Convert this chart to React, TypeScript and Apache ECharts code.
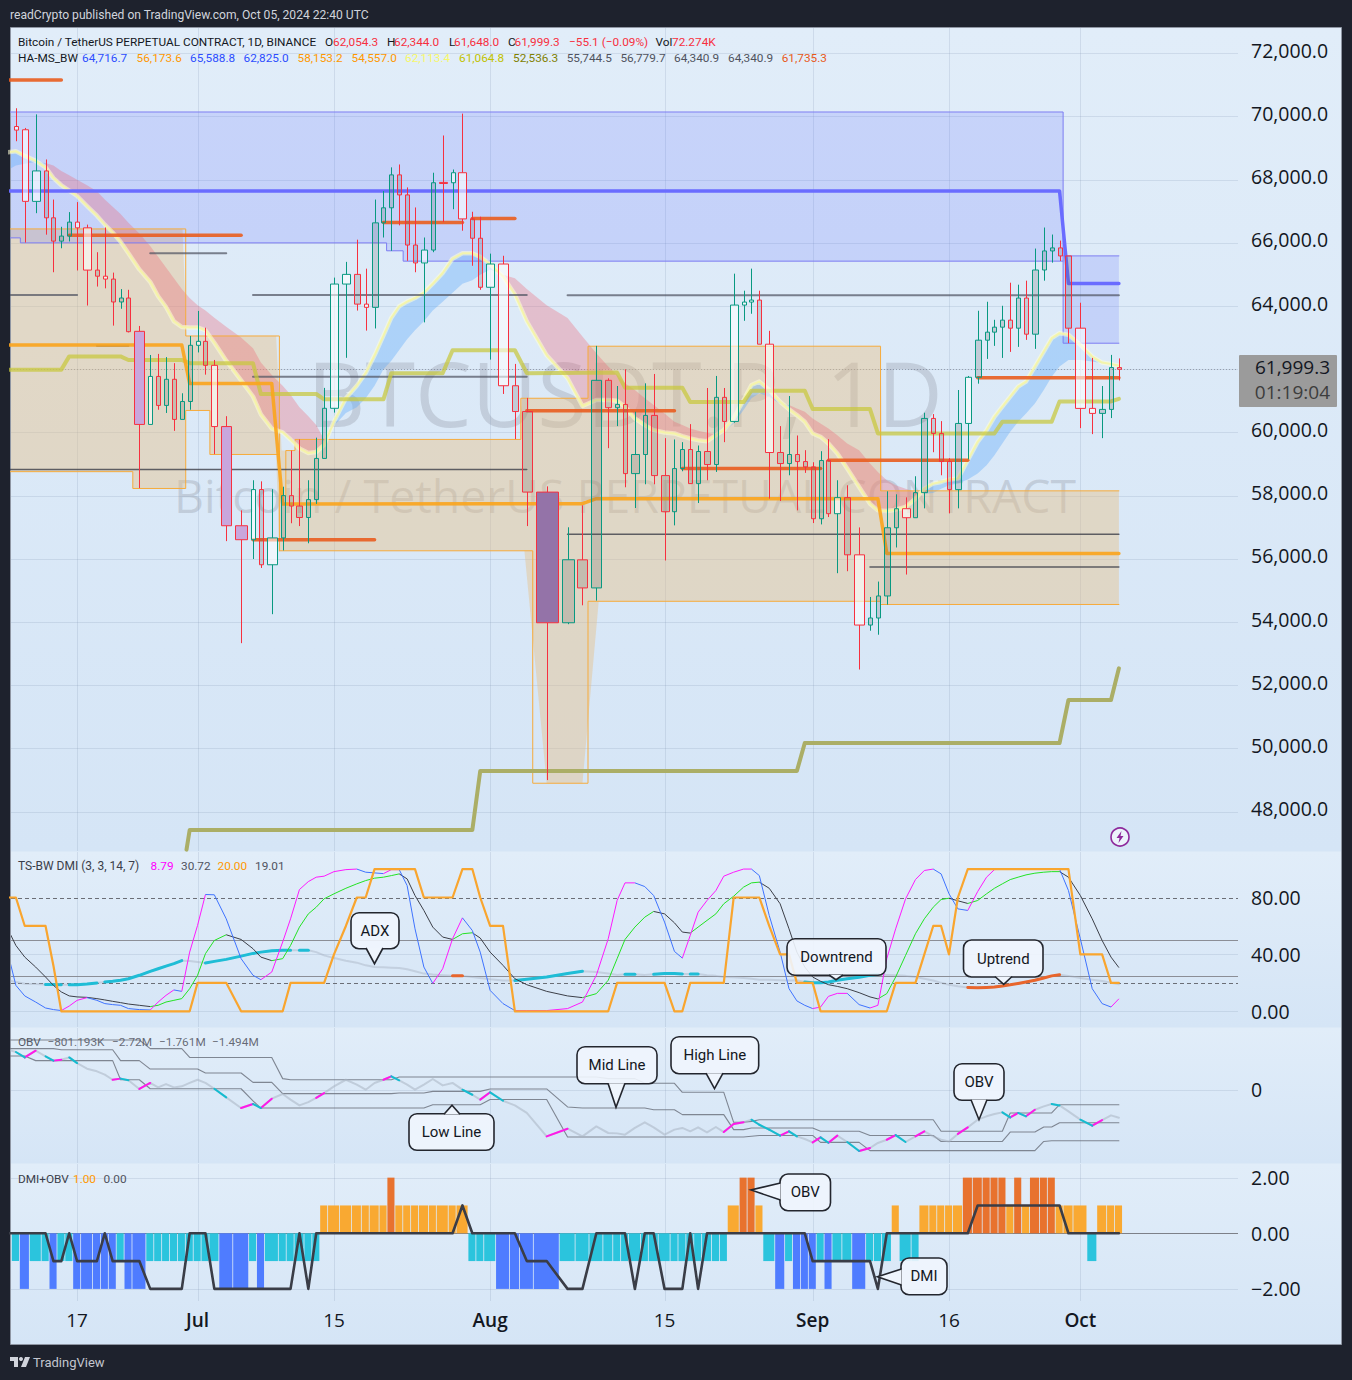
import React, { useEffect, useRef } from "react";
import * as echarts from "echarts";

// ---------- candle data (Jun 9 – Oct 5, 2024, one row per day) ----------
const opens = [69353,69682,69580,67314,68277,66793,66056,66215,66657,66476,
65139,64946,64855,64130,64255,63201,60255,61774,60856,61683,
60414,60981,62759,62884,62125,60187,57049,56607,58193,55814,
56664,58001,57672,57310,57876,59179,60765,64697,65003,64062,
63960,66634,67110,68152,67518,65932,65365,65773,67914,67903,
68220,66759,66147,64595,65331,61479,60663,58114,53979,55970,
55081,61651,60784,60889,58699,59303,60540,58636,57493,58858,
59461,58382,59398,58985,61112,60350,64032,64127,64190,62794,
59366,59017,59303,59080,58911,57271,59112,57430,57938,56128,
53906,54129,54827,56985,57588,57303,58096,60445,59969,59080,
58191,60286,61746,62921,63175,63333,63555,63301,64254,63111,
65142,65745,65841,65587,63301,60762,60604,60730,62054.3];
const highs = [69920,70260,69637,70067,68640,67371,66510,66974,67291,66578,
65705,66487,65059,64538,64515,63371,62453,62487,62385,62193,
61241,63054,63847,63315,62295,60516,57536,58488,58454,58205,
58284,59428,59780,58488,59836,61411,64901,65399,66102,65184,
67371,67643,68390,68481,67756,67121,66170,68220,69399,68322,
70090,66985,66827,65660,65592,62170,61094,58295,57000,57694,
62741,61715,61471,62000,60657,61556,61852,59821,59779,59694,
60265,59588,61408,61789,61408,65026,64487,65185,64487,63217,
60202,61154,59905,59440,59059,59408,59789,58488,58329,56996,
54795,55282,58139,58043,57948,58615,60625,60582,60360,59186,
61344,61788,63852,64137,63566,64010,64740,64677,64804,65820,
66486,66264,66073,65587,64106,62360,61471,62455,62344];
const lows = [69183,69217,66011,66940,66260,65071,65830,66045,65127,64017,
64618,64561,63382,63915,63167,58239,60255,60720,60618,60051,
60414,60720,62533,61830,59315,56562,53333,55995,55712,54250,
56267,57128,57038,56494,57740,59179,60629,62363,63858,63224,
63292,66170,65750,66555,65433,65071,63484,65705,66657,67065,
66385,65275,64515,62306,61219,59791,57038,49000,53934,54531,
54679,59504,60202,58266,57610,58361,58361,55949,57060,58773,
58382,57768,58488,58752,59694,60308,63534,63757,62794,57906,
57832,58646,57536,58721,57134,57091,57324,55547,55610,52499,
53727,53600,54552,56361,55504,57303,57599,59376,58646,57440,
57599,59154,61545,62328,62741,62360,62550,62709,62931,62646,
64804,65375,65428,62825,60138,59948,59821,60456,61648];
const closes = [69682,69569,67314,68277,66793,66056,66215,66657,66476,65139,
64946,64855,64130,64255,63190,60255,61774,60856,61683,60414,
60981,62759,62884,62125,60187,57049,56607,58193,55814,56664,
58001,57672,57310,57876,59179,60765,64697,65003,64062,63960,
66634,67110,68152,67518,65932,65365,65773,67903,67880,68220,
66759,66147,64595,65331,61479,60663,58114,53979,55973,55081,
61651,60784,60889,58699,59303,60540,58636,57493,58858,59461,
58382,59398,58985,61112,60350,64032,64127,64190,62794,59366,
59017,59303,59080,58911,57271,59112,57430,57938,56129,53906,
54129,54827,56985,57588,57303,58096,60445,59969,59080,58191,
60286,61746,62921,63175,63333,63555,63301,64254,63111,65142,
65745,65841,65587,63301,60762,60604,60730,62054,61999.3];
// volume in thousands; the chart is a volume-candle chart, so width follows volume
const volumes = [72,72,108,144,72,72,72,72,72,144,
72,72,72,72,72,180,72,72,72,72,
72,72,72,72,108,180,216,72,72,180,
72,72,108,72,72,72,144,144,108,72,
108,72,72,72,72,72,108,72,144,72,
144,72,72,144,180,108,180,396,216,180,
180,108,72,72,144,72,108,144,72,72,
72,72,108,72,72,144,72,72,72,144,
108,72,72,72,72,72,72,108,108,180,
72,72,108,72,144,72,108,72,72,72,
108,108,108,72,72,72,72,72,72,108,
72,72,72,108,180,108,108,72,72.274];
const lightBodies = [1,2,3,8,9,11,16,22,24,27,29,36,37,39,46,49,50,53,54,75,76,77,79,87,89,94,101,114,115];
const purpleBodies = [15,25,26];
const deepBodies = [57];

// ---------- overlay data: [candle index, price] ----------
const ribbonFast = [68866,68900,68753,68594,68390,68050,67824,67654,67484,67167,
66861,66578,66328,66034,65671,65161,64765,64311,63971,63518,
63337,63326,63326,63235,62839,62272,61649,61139,60573,60119,
60006,59779,59496,59349,59383,59610,60346,61082,61479,61876,
62442,63065,63632,63994,64141,64255,64425,64708,65048,65501,
65671,65671,65558,65331,64935,64368,63518,62442,61715,60837,
61027,61027,61006,60815,60445,60234,60075,60001,59969,59884,
59810,59757,59726,59916,60075,60445,61027,61503,61609,61344,
60974,60731,60551,60339,59969,59863,59652,59334,58858,58276,
57747,57535,57514,57557,57641,57906,58223,58382,58435,58509,
58541,59122,59704,60075,60498,60815,61133,61450,61609,62085,
62561,62984,63143,63090,62772,62402,62212,62169,62113.4];
const ribbonSlow = [68311,68447,68504,68560,68526,68447,68277,68141,67994,67824,
67631,67371,67144,66917,66634,66294,65898,65558,65218,64878,
64538,64255,64028,63858,63632,63348,63008,62669,62216,61819,
61479,61196,60799,60516,60233,59779,60210,60620,60799,61082,
61479,62001,62272,62612,62952,63235,63518,63858,64141,64425,
64708,64821,64991,65161,64991,64878,64538,64028,63619,63037,
62508,62085,61820,61556,61344,61080,60868,60604,60339,60234,
60127,60054,59990,59948,60022,60286,60710,61080,61239,61133,
60900,60868,60762,60657,60445,60286,60127,59916,59650,59440,
59017,58752,58488,58329,58223,58117,58064,58086,58223,58329,
58382,58509,58699,58964,59281,59651,60022,60339,60604,60921,
61344,61767,62085,62296,62296,62243,62191,62169,62138];

const blueUpperA = [[0,70142],[112.4,70142]];
const blueLowerA = [[0,66158],[1.5,66158],[1.5,66000],[41.4,66000],[41.4,65750],[43.5,65750],[43.5,65422],[112.4,65422]];
const blueUpperB = [[112.4,65588.8],[118,65588.8]];
const blueLowerB = [[112.4,62825],[118,62825]];
const blueMid = [[0,67642],[112,67642],[113,64716.7],[118,64716.7]];

const tanFillUpper = [[0,66442],[20.1,66442],[20.6,63054],[29.4,63054],[29.9,59428],[31.5,59428],[31.5,59780],[55.5,59780],[55.5,61083],[59.4,61083],[59.4,62730],[91.3,62730],[91.5,58153.2],[118,58153.2]];
const tanFillLower = [[0,58760],[14.4,58760],[14.4,58228],[20.5,58228],[20.5,60697],[23.5,60697],[23.5,59304],[29.4,59304],[29.7,56256],[55.8,56256],[57,48900],[59,48900],[60.2,54658],[91.3,54658],[91.5,54557],[118,54557]];
const tanEdges = [
  [[0,66442],[20.5,66442],[20.5,63054],[29.7,63054],[29.7,56256]],
  [[30.4,58000],[30.4,59428],[31.5,59428],[31.5,59780],[55.5,59780],[55.5,61083],[59.4,61083],[59.4,62730],[91.3,62730],[91.3,58153.2],[118,58153.2]],
  [[0,58760],[14.4,58760],[14.4,58228],[20.5,58228],[20.5,60697],[23.5,60697],[23.5,59304],[29.7,59304]],
  [[29.7,56256],[56.3,56256],[56.3,48900],[59.4,48900],[59.4,54658],[91.3,54658],[91.3,54557],[118,54557]],
];
const orangeMid = [[0,62770],[20,62770],[21,61547],[29,61547],[30,57735],[59,57747],[60,57906],[91,57906],[92,56173.6],[118,56173.6]];
const oliveLine = [[0,61989],[6,61989],[7,62408],[13,62408],[14,62295],[20,62295],[21,62193],[27,62193],[28,61218],[34,61218],[35,61049],[41,61049],[42,61876],[48,61876],[49,62601],[55,62601],[56,61876],[62,61895],[63,61418],[69,61418],[70,60964],[76,60964],[77,61323],[83,61323],[84,60741],[90,60741],[91,59969],[104,59969],[105,60339],[111,60339],[112,60984],[117,60984],[118,61064.8]];
const darkOliveLine = [[20.6,46800],[21,47421],[51,47421],[52,49288],[82,49288],[83,50174],[112,50174],[113,51535],[117,51535],[118,52536.3]];
const grayLevels = [
  [[0,64350],[8,64350]],[[27,64350],[56,64350]],[[58,64340.9],[118,64340.9]],
  [[16,65671],[25,65671]],[[10,62748],[14,62748]],[[27,61762],[56,61762]],
  [[0,58828],[56,58828]],[[58,56779.7],[118,56779.7]],[[90,55744.5],[118,55744.5]],
];
const redLevels = [
  [[0,71155],[6,71155]],[[7,66238],[26,66238]],[[27,56607],[40,56607]],[[41,66646],[50,66646]],
  [[51,66770],[55,66770]],[[56,60690],[68,60690]],[[69,58858],[85,58858]],[[86,59123],[101,59123]],[[102,61735.3],[118,61735.3]],
];
const priceTicks = [48000,50000,52000,54000,56000,58000,60000,62000,64000,66000,68000,70000,72000];
const priceTickLabels = [48000,50000,52000,54000,56000,58000,60000,64000,66000,68000,70000,72000];

// ---------- DMI pane ----------
const dmiFast = [40.5,18.2,10.8,6.5,2.3,1.2,.5,3.7,7.7,9.6,
7.7,5.4,4.7,4.2,1.9,1.2,.9,6.5,11.2,15,
14,41.6,60.4,82.1,81.9,65,37,25.3,22.2,27.6,
48.7,65,85.6,91.2,94.3,95,98.2,99.6,100,97.8,
97.3,96.8,99.6,99.6,88.4,58,31.1,19.6,29.9,51,
65.7,56.8,41.6,14.7,5.4,.5,.5,.5,1.9,6.5,
25.3,51,77.9,90.3,90.3,87.7,81.4,62.7,42.1,37.4,
53.3,69.7,77.9,84.9,95,97.8,100,100,95.4,67.4,
41.6,15.9,7.3,4.2,1.9,3,10.5,12.6,12.6,4.7,
2.3,4.2,37,58,79,92.6,99,100,96.6,82.6,
72,70.9,84.2,94.3,99.6,100,100,100,100,100,
100,100,100,84.9,51,15.9,5.4,3,8.79];
const dmiSlow = [57.5,46.3,38.1,31.1,24.1,18.2,13.6,10.8,10.1,9.8,
8.9,8,7,6.1,5.1,4.2,3.3,4.2,6.5,7.7,
8.9,15.9,25.3,40.5,49.8,53.8,50.5,44,38.1,35.6,
37,46.3,59.2,68.5,73.2,79.1,82.6,86.5,89.6,91.9,
93.6,94.3,95.4,96.6,93.1,81.4,70.9,59.2,52.2,50.5,
54.5,55.2,51.5,41.6,32.3,22.9,18.7,14,10.8,9.6,
12.4,21.8,37,50.5,59.2,66.2,70.2,68.5,62.2,55.7,
55,59.2,63.9,68.5,75.6,80.9,87.3,90.3,90.8,86.5,
75.6,58,41.6,31.1,24.1,21.1,18.7,17.5,15.9,13.1,
10.1,8.7,12.4,24.1,39.3,54.5,65,73.2,78.6,79.5,
77.7,75.8,77.9,82.6,86.5,89.6,92.6,94.3,95.9,97.1,
97.8,98.2,98.2,94.3,81.4,65,49.8,38.1,30.72];
const dmiSignal = [80,80,60,60,60,32,0,0,0,0,
0,0,0,0,0,0,0,0,0,0,
0,0,20,20,20,20,0,0,0,0,
0,20,20,20,20,20,40,60,80,80,
100,100,100,100,100,100,80,80,80,80,
100,100,80,60,60,0,0,0,0,0,
0,0,20,20,20,20,20,20,0,0,
20,20,20,20,20,80,80,80,80,60,
40,40,20,20,20,0,0,0,0,0,
0,0,0,20,20,20,40,60,60,40,
80,100,100,100,100,100,100,100,100,100,
100,100,100,100,40,40,40,20,20];
const adx = [21.8,20.6,19.4,19.2,18.9,18.8,18.7,18.7,18.7,19.2,
19.9,20.6,21.1,21.8,22.9,25.3,28.1,29.9,31.8,33.5,
35.6,35.4,34.6,33.9,35.1,36.5,38.8,40.7,41.6,42.6,
42.9,42.9,42.9,42.9,41.6,39.3,37.4,35.6,34.2,32.3,
31.1,30.9,30.6,30.4,29.5,28.1,26.5,25.8,25.3,24.9,
24.9,24.1,23.4,22.5,21.6,21.6,22.5,24.1,26.5,28.1,
27.6,26.5,25.6,26,26,25.6,26,26.5,26.5,26.2,
26.2,26.2,25.3,24.9,24.1,23.9,23.4,22.9,22.2,22.2,
21.8,21.6,21.8,20.6,20.1,20.1,20.6,21.8,22.9,23.9,
25.3,25.8,25.6,25.3,24.9,24.1,22.9,21.6,20,18.7,
17.6,16.7,16.5,16.7,17,17.8,18.6,19.6,20.6,21.8,
23.4,24.9,25.7,24.9,23.4,22.2,21.3,20.1,19.01];
const adxCyanRanges = [[4,6],[7,10],[11,20],[23,31],[32,33],[55,59],[63,64],[66,69],[70,71],[83,91]];
const adxOrangeRanges = [[49,50],[101,112]];

// ---------- OBV pane (millions) ----------
const obv = [2.13,2.01,1.72,2.08,1.78,1.55,1.6,1.72,1.42,1.12,
.98,.8,.53,.59,.5,.04,.36,.12,.3,.12,
.18,.36,.53,.36,.05,-.41,-.98,-.76,-.98,-.48,
-.23,-.53,-.84,-.66,-.44,-.18,.18,.53,.27,0,
.36,.53,.71,.5,.27,0,.27,.57,.23,.36,
0,-.27,-.53,-.14,-.59,-.84,-1.24,-2.49,-2.08,-2.49,
-1.96,-2.31,-2.33,-2.4,-2.04,-1.74,-2.01,-2.4,-2.13,-2.04,
-2.22,-2.01,-2.28,-1.99,-2.26,-1.83,-1.74,-1.6,-1.87,-2.13,
-2.45,-2.22,-2.49,-2.63,-2.81,-2.54,-2.83,-2.45,-2.79,-3.27,
-3.11,-2.84,-2.67,-2.42,-2.79,-2.49,-2.22,-2.49,-2.67,-2.76,
-2.36,-2.01,-1.6,-1.42,-1.3,-1.21,-1.48,-1.24,-1.42,-1.07,
-.89,-.76,-.84,-1.16,-1.6,-1.92,-1.62,-1.37,-1.494];
const obvHigh = [[0,2.65],[15,2.65],[16,2.19],[20,2.19],[21,1.72],[29,1.72],[30,.59],[31,.53],[42,.53],[43,.68],[60,.68],[61,.59],[64,.59],[65,.34],[68,.34],[69,-.14],[74,-.14],[75,-1.74],[76,-1.74],[77,-1.69],[78,-1.6],[97,-1.6],[98,-2.22],[105,-2.22],[106,-1.24],[111,-1.24],[112,-.801],[118,-.801]];
const obvMid = [[0,2.19],[5,2.19],[6,2.13],[12,2.13],[13,1.55],[15,1.55],[16,1.1],[22,1.1],[23,.89],[26,.89],[27,.39],[29,.39],[30,-.21],[42,-.21],[43,-.18],[46,-.18],[47,-.09],[52,-.09],[53,.04],[57,.04],[58,-.92],[59,-.98],[65,-.98],[66,-1.07],[68,-1.07],[69,-1.33],[74,-1.33],[75,-2.13],[76,-2.13],[77,-2.04],[84,-2.04],[85,-2.22],[89,-2.22],[90,-2.44],[97,-2.44],[98,-2.76],[105,-2.76],[106,-2.26],[109,-2.26],[110,-1.99],[111,-1.99],[112,-1.761],[118,-1.761]];
const obvLow = [[0,1.8],[2,1.8],[3,1.55],[12,1.55],[13,.53],[15,.53],[16,.05],[26,.05],[27,-.6],[28,-.98],[46,-.98],[47,-.8],[52,-.8],[53,-.52],[57,-.52],[58,-2.52],[76,-2.52],[77,-2.48],[78,-2.44],[84,-2.44],[85,-2.81],[89,-2.81],[90,-3.25],[109,-3.25],[110,-2.76],[111,-2.72],[118,-2.72]];
const obvUpStarts = [2,5,12,15,26,28,34,41,52,57,74,75,80,84,86,89,92,95,100,106,108,115];
const obvDownStarts = [1,4,7,13,24,27,42,50,53,77,78,79,81,85,88,93,105,107,111,114];

// ---------- DMI+OBV pane ----------
const comboBars = [-1,-1,-2,-1,-1,-2,-1,-1,-2,-2,
-2,-2,-2,-1,-2,-2,-1,-1,-1,-1,
-1,-1,-1,-1,-1,-2,-2,-1,-2,-1,
-1,-1,-1,-1,-1,1,1,1,1,1,
1,1,2,1,1,1,1,1,1,1,
1,-1,-1,-1,-2,-2,-2,-2,-1,-1,
-1,-1,-1,-1,-1,-1,-1,-1,-1,-1,
-1,-1,-1,-1,-1,1,2,2,1,-1,
-2,-1,-2,-2,-2,-1,-2,-1,-1,-2,
-1,-1,-1,1,-1,-1,1,1,1,1,
1,2,2,2,2,2,1,2,1,2,
2,2,1,1,1,-1,1,1,1];
const comboLine = [0,0,0,0,0,-1,-1,0,-1,-1,
-1,0,-1,-1,-1,-1,-2,-2,-2,-2,
-2,0,0,0,-2,-2,-2,-2,-2,-2,
-2,-2,0,-2,0,0,0,0,0,0,
0,0,0,0,0,0,0,0,0,0,
1,0,0,0,0,0,-1,-1,-2,-2,
0,0,0,0,-2,0,0,-2,-2,-2,
0,-2,0,0,0,0,0,0,0,0,
0,0,0,0,-1,-1,-1,-1,-1,-1,
-1,-2,0,0,0,0,0,0,0,0,
0,0,1,1,1,1,1,1,1,1,
1,1,1,0,0,0,0,0,0];
const timeTickIdx = [8,22,36,53,67,84,99,114];
const timeTickLabels = ["17","Jul","15","Aug","15","Sep","16","Oct"];

// ---------- scale set-up ----------
const PX = 18; // volume units per pixel
const GAP = 70; // spacing between candles, in the same units
const pos: number[] = [];
{
  let run = 0;
  volumes.forEach((v, i) => {
    if (i === 0) run = v / 2;
    else run += (volumes[i - 1] + v) / 2 + GAP;
    pos.push(run);
  });
}
const xMin = 90;
const xMax = xMin + 1227 * PX;
const xAt = (i: number) => {
  const a = Math.floor(i);
  const b = Math.min(a + 1, pos.length - 1);
  return pos[a] + (pos[b] - pos[a]) * (i - a);
};
const pts = (list: number[][]) => list.map(([i, v]) => [xAt(i), v]);
const series1 = (vals: number[]) => vals.map((v, i) => [pos[i], v]);
const FONT = "Open Sans";
const UI = "Roboto";
const INK = "#131722";
const RED = "#f7303f";
const GREEN = "#089981";
const GRID = "rgba(125,145,175,0.2)";

function line(g: number, data: any[], color: string, width: number, z = 4, extra: any = {}) {
  return { type: "line", xAxisIndex: g, yAxisIndex: g, data, symbol: "none", silent: true, z,
    lineStyle: { color, width, cap: "round", join: "round", ...extra }, animation: false };
}
function polygonBand(g: number, upper: number[][], lower: number[][], fill: string, z = 2) {
  const poly = [...pts(upper), ...pts(lower).reverse()];
  return { type: "custom", xAxisIndex: g, yAxisIndex: g, silent: true, z, clip: true, data: [poly[0]], encode: { x: 0, y: 1 },
    renderItem: (_: any, api: any) => ({ type: "polygon", shape: { points: poly.map((p) => api.coord(p)) }, style: { fill } }) };
}
function hRules(g: number, values: number[], stroke: string, lineDash?: number[], width = 1) {
  return { type: "custom", xAxisIndex: g, yAxisIndex: g, silent: true, z: 1, clip: true, data: values.map((v) => [xMin, v]), encode: { x: 0, y: 1 },
    renderItem: (_: any, api: any) => {
      const a = api.coord([xMin, api.value(1)]);
      const b = api.coord([xMax, api.value(1)]);
      const y = Math.round(a[1]) + 0.5;
      return { type: "line", shape: { x1: a[0], y1: y, x2: b[0], y2: y }, style: { stroke, lineWidth: width, lineDash } };
    } };
}
function vRules(g: number, yLo: number, yHi: number) {
  return { type: "custom", xAxisIndex: g, yAxisIndex: g, silent: true, z: 1, clip: true, data: timeTickIdx.map((i) => [pos[i], yLo]), encode: { x: 0, y: 1 },
    renderItem: (_: any, api: any) => {
      const a = api.coord([api.value(0), yLo]);
      const b = api.coord([api.value(0), yHi]);
      const x = Math.round(a[0]) + 0.5;
      return { type: "line", shape: { x1: x, y1: a[1], x2: x, y2: b[1] }, style: { stroke: GRID, lineWidth: 1 } };
    } };
}
function dirLine(g: number, vals: number[], up: string, down: string, width = 1) {
  const rows = vals.slice(0, -1).map((v, i) => [pos[i], v, pos[i + 1], vals[i + 1]]);
  return { type: "custom", xAxisIndex: g, yAxisIndex: g, silent: true, z: 5, clip: true, data: rows, encode: { x: 0, y: 1 },
    renderItem: (_: any, api: any) => {
      const v0 = api.value(1), v1 = api.value(3);
      const a = api.coord([api.value(0), v0]);
      const b = api.coord([api.value(2), v1]);
      return { type: "line", shape: { x1: a[0], y1: a[1], x2: b[0], y2: b[1] }, style: { stroke: v1 >= v0 ? up : down, lineWidth: width } };
    } };
}
const ribbonSeries = {
  type: "custom", xAxisIndex: 0, yAxisIndex: 0, silent: true, z: 3, clip: true, data: [[pos[10], ribbonFast[10]]], encode: { x: 0, y: 1 },
  renderItem: (_: any, api: any) => {
    const children: any[] = [];
    let start = 0;
    const isRed = (i: number) => ribbonSlow[i] > ribbonFast[i];
    for (let i = 1; i <= ribbonFast.length; i++) {
      if (i === ribbonFast.length || isRed(i) !== isRed(start)) {
        const end = Math.min(i, ribbonFast.length - 1);
        const p: number[][] = [];
        for (let k = start; k <= end; k++) p.push(api.coord([pos[k], ribbonFast[k]]));
        for (let k = end; k >= start; k--) p.push(api.coord([pos[k], ribbonSlow[k]]));
        children.push({ type: "polygon", shape: { points: p }, style: { fill: isRed(start) ? "rgba(240,95,110,0.31)" : "rgba(95,170,250,0.38)" } });
        start = i;
      }
    }
    return { type: "group", children };
  },
};
const candleSeries = {
  type: "custom", xAxisIndex: 0, yAxisIndex: 0, silent: true, z: 8, clip: true,
  data: pos.map((p, i) => [p, opens[i], closes[i], lows[i], highs[i], volumes[i], i]),
  encode: { x: 0, y: [1, 2, 3, 4] },
  renderItem: (_: any, api: any) => {
    const x = api.value(0), o = api.value(1), c = api.value(2), l = api.value(3), h = api.value(4), i = api.value(6);
    const cx = Math.round(api.coord([x, o])[0]) + 0.5;
    const w = api.size([api.value(5), 0])[0];
    const top = api.coord([x, Math.max(o, c)])[1];
    const bot = api.coord([x, Math.min(o, c)])[1];
    const hi = api.coord([x, h])[1];
    const lo = api.coord([x, l])[1];
    const stroke = c >= o ? GREEN : RED;
    let fill = "rgba(85,85,85,0.2)";
    if (lightBodies.includes(i)) fill = "rgba(255,255,255,0.58)";
    if (purpleBodies.includes(i)) fill = "#c9a6dc";
    if (deepBodies.includes(i)) fill = "#9473a8";
    return { type: "group", children: [
      { type: "line", shape: { x1: cx, y1: hi, x2: cx, y2: top }, style: { stroke, lineWidth: 1 } },
      { type: "line", shape: { x1: cx, y1: bot, x2: cx, y2: lo }, style: { stroke, lineWidth: 1 } },
      { type: "rect", shape: { x: cx - w / 2, y: top, width: w, height: Math.max(bot - top, 1) }, style: { fill, stroke, lineWidth: 1 } },
    ] };
  },
};
const comboBarSeries = {
  type: "custom", xAxisIndex: 3, yAxisIndex: 3, silent: true, z: 3, clip: true,
  data: pos.map((p, i) => [p, comboBars[i], volumes[i]]), encode: { x: 0, y: 1 },
  renderItem: (_: any, api: any) => {
    const x = api.value(0), v = api.value(1);
    const slot = api.size([api.value(2) + GAP, 0])[0];
    const a = api.coord([x, 0]);
    const b = api.coord([x, v]);
    const color = v === 1 ? "#f9a932" : v === 2 ? "#e8722e" : v === -1 ? "#2bc4dd" : "#4f7cff";
    return { type: "rect", shape: { x: a[0] - slot / 2, y: Math.min(a[1], b[1]), width: slot - 0.8, height: Math.abs(b[1] - a[1]) }, style: { fill: color } };
  },
};

function t(x: number, y: number, text: string, fill: string, size = 12, extra: any = {}) {
  return { type: "text", x, y, z: 60, silent: true, style: { text, fill, font: `${extra.weight || 400} ${size}px ${extra.family || UI}`, textAlign: extra.align || "left", textVerticalAlign: "middle", opacity: extra.opacity ?? 1 } };
}
const CALLOUT_FILL = "rgba(239,245,253,0.9)";
const CALLOUT_STROKE = "#23262e";
function callout(box: number[], tail: number[][], text: string, size = 15) {
  const [x0, y0, x1, y1] = box;
  return [
    { type: "rect", z: 70, silent: true, shape: { x: x0, y: y0, width: x1 - x0, height: y1 - y0, r: 8 }, style: { fill: CALLOUT_FILL, stroke: CALLOUT_STROKE, lineWidth: 1.6 } },
    { type: "polygon", z: 71, silent: true, shape: { points: tail }, style: { fill: "#eff5fd" } },
    { type: "polyline", z: 72, silent: true, shape: { points: tail }, style: { stroke: CALLOUT_STROKE, lineWidth: 1.6, fill: "none" } },
    { type: "text", z: 73, silent: true, x: (x0 + x1) / 2, y: (y0 + y1) / 2, style: { text, fill: INK, font: `400 ${size}px ${UI}`, textAlign: "center", textVerticalAlign: "middle" } },
  ];
}
const paneBg = (y: number, height: number, a = "#e1edf9", b = "#d5e5f6") => ({
  type: "rect", z: -10, silent: true, shape: { x: 11, y, width: 1330, height },
  style: { fill: new echarts.graphic.LinearGradient(0, 0, 0, 1, [{ offset: 0, color: a }, { offset: 1, color: b }]) },
});

function buildOption(): any {
  const priceLabels = (v: number) => v.toLocaleString("en-US", { minimumFractionDigits: 1 });
  const yBase = { type: "value", position: "right", scale: true, axisLine: { show: false }, axisTick: { show: false }, splitLine: { show: false } };
  const labelBase = { color: INK, fontSize: 19.5, fontFamily: FONT, margin: 13 };
  const xBase = { type: "value", min: xMin, max: xMax, axisLine: { show: false }, axisTick: { show: false }, splitLine: { show: false } };
  const L = 11.8;
  const graphics: any[] = [
    { type: "rect", z: -20, silent: true, shape: { x: 10.5, y: 27.5, width: 1331, height: 1317 }, style: { fill: "#dbe9f7", stroke: "#8f96a3", lineWidth: 1 } },
    paneBg(28, 823), paneBg(852, 175), paneBg(1028, 135), paneBg(1164, 180),
    { type: "text", z: -5, silent: true, x: 625, y: 392, style: { text: "BTCUSDT.P, 1D", fill: "rgba(120,123,134,0.25)", font: `400 90px ${FONT}`, textAlign: "center", textVerticalAlign: "middle" } },
    { type: "text", z: -5, silent: true, x: 625, y: 495, style: { text: "Bitcoin / TetherUS PERPETUAL CONTRACT", fill: "rgba(120,123,134,0.25)", font: `400 46.4px ${FONT}`, textAlign: "center", textVerticalAlign: "middle" } },
    t(10, 15, "readCrypto published on TradingView.com, Oct 05, 2024 22:40 UTC", "#d1d4dc", 12.1),
    t(18, 42, "Bitcoin / TetherUS PERPETUAL CONTRACT, 1D, BINANCE", INK, L),
    t(325, 42, "O", INK, L), t(333, 42, "62,054.3", RED, L),
    t(387, 42, "H", INK, L), t(394, 42, "62,344.0", RED, L),
    t(449, 42, "L", INK, L), t(454, 42, "61,648.0", RED, L),
    t(508, 42, "C", INK, L), t(514.5, 42, "61,999.3", RED, L),
    t(569, 42, "−55.1 (−0.09%)", RED, L),
    t(655.5, 42, "Vol", INK, L), t(672, 42, "72.274K", RED, L),
    t(18, 58, "HA-MS_BW", INK, L),
    t(82, 58, "64,716.7", "#2d4dff", L), t(136.6, 58, "56,173.6", "#ff9800", L),
    t(190, 58, "65,588.8", "#2d4dff", L), t(243.5, 58, "62,825.0", "#2d4dff", L),
    t(297.5, 58, "58,153.2", "#ff9800", L), t(351.6, 58, "54,557.0", "#ff9800", L),
    t(405, 58, "62,113.4", "#f7f76a", L), t(459, 58, "61,064.8", "#c2c200", L),
    t(513, 58, "52,536.3", "#808000", L), t(566.7, 58, "55,744.5", "#50535e", L),
    t(620.4, 58, "56,779.7", "#50535e", L), t(674, 58, "64,340.9", "#50535e", L),
    t(728, 58, "64,340.9", "#50535e", L), t(781.7, 58, "61,735.3", "#e8591a", L),
    t(18, 866, "TS-BW DMI (3, 3, 14, 7)", "#3a3e4a", 12), t(150.6, 866, "8.79", "#ff00ff", L),
    t(181, 866, "30.72", "#50535e", L), t(217.5, 866, "20.00", "#ff9800", L), t(255, 866, "19.01", "#50535e", L),
    t(18, 1042, "OBV", "#3a3e4a", L, { opacity: 0.85 }), t(47.4, 1042, "−801.193K", "#50535e", L, { opacity: 0.85 }),
    t(112, 1042, "−2.72M", "#50535e", L, { opacity: 0.85 }), t(159, 1042, "−1.761M", "#50535e", L, { opacity: 0.85 }), t(212, 1042, "−1.494M", "#50535e", L, { opacity: 0.85 }),
    t(18, 1179, "DMI+OBV", "#3a3e4a", L), t(73, 1179, "1.00", "#ff9800", L), t(103.6, 1179, "0.00", "#50535e", L),
    { type: "rect", z: 60, silent: true, shape: { x: 1239, y: 355, width: 98, height: 52, r: 1 }, style: { fill: "#9b9b9b" } },
    t(1330, 367, "61,999.3", INK, 19, { family: FONT, align: "right" }),
    t(1330, 392, "01:19:04", "#3d3d3d", 19, { family: FONT, align: "right" }),
    { type: "circle", z: 60, silent: true, shape: { cx: 1120, cy: 837, r: 9 }, style: { fill: "rgba(255,255,255,0.55)", stroke: "#8e2a9c", lineWidth: 1.6 } },
    { type: "polygon", z: 61, silent: true, shape: { points: [[1121.5, 831], [1116.5, 838], [1119.5, 838], [1118.5, 843], [1123.5, 836], [1120.5, 836]] }, style: { fill: "#8e2a9c" } },
    { type: "polygon", z: 60, silent: true, shape: { points: [[10, 1357], [18, 1357], [18, 1367], [14, 1367], [14, 1361], [10, 1361]] }, style: { fill: "#d1d4dc" } },
    { type: "circle", z: 60, silent: true, shape: { cx: 21, cy: 1359, r: 2 }, style: { fill: "#d1d4dc" } },
    { type: "polygon", z: 60, silent: true, shape: { points: [[25, 1357], [30, 1357], [26, 1367], [21, 1367]] }, style: { fill: "#d1d4dc" } },
    t(33, 1362, "TradingView", "#c3c6ce", 13),
    ...callout([351, 912.7, 399, 948.7], [[366, 948], [374.5, 963.7], [383, 948]], "ADX"),
    ...callout([787, 938.7, 886, 975.3], [[829, 975], [836, 979.7], [843, 975]], "Downtrend"),
    ...callout([963.5, 940, 1043, 977], [[995, 976.5], [1003.7, 984.3], [1012, 976.5]], "Uptrend"),
    ...callout([409, 1113.7, 494, 1150.3], [[444, 1114.2], [452, 1105.3], [460, 1114.2]], "Low Line"),
    ...callout([577, 1046.7, 657, 1083.7], [[608, 1083.2], [616, 1107.3], [625, 1083.2]], "Mid Line"),
    ...callout([671, 1036.7, 758.7, 1073.7], [[706, 1073.2], [714.5, 1088.7], [723, 1073.2]], "High Line"),
    ...callout([954, 1063.7, 1004, 1100.3], [[971, 1099.8], [979, 1119.7], [987, 1099.8]], "OBV"),
    ...callout([780, 1174, 830.5, 1210.7], [[780.5, 1183], [751, 1190], [780.5, 1200]], "OBV"),
    ...callout([901, 1258, 947, 1294.7], [[901.5, 1269], [877.4, 1276.7], [901.5, 1285]], "DMI"),
  ];

  const series: any[] = [
    hRules(0, priceTicks, GRID), vRules(0, 46756, 72800),
    polygonBand(0, tanFillUpper, tanFillLower, "rgba(232,190,130,0.42)", 2),
    polygonBand(0, blueUpperA, blueLowerA, "rgba(90,105,255,0.19)", 2),
    polygonBand(0, blueUpperB, blueLowerB, "rgba(90,105,255,0.19)", 2),
    ...tanEdges.map((e) => line(0, pts(e), "#f6ab3c", 1, 3)),
    line(0, pts([...blueUpperA, ...blueLowerA.slice().reverse()]), "#7d7df2", 1, 3),
    line(0, pts([...blueUpperB, [118, 65588.8]]), "#7d7df2", 1, 3),
    line(0, pts([[112.4, 65422], ...blueLowerB]), "#7d7df2", 1, 3),
    ribbonSeries,
    line(0, series1(ribbonFast), "rgba(255,255,215,0.55)", 4.5, 4),
    line(0, series1(ribbonFast), "rgba(245,245,165,0.9)", 2, 4),
    ...grayLevels.map((l, i) => line(0, pts(l), i >= 6 ? "rgba(60,62,72,0.8)" : "rgba(80,85,98,0.72)", i >= 6 ? 1.5 : 2, 4)),
    line(0, pts(oliveLine), "rgba(200,200,60,0.72)", 4, 4),
    line(0, pts(darkOliveLine), "#abae66", 4, 4),
    line(0, pts(orangeMid), "rgba(250,165,30,0.92)", 3.5, 5),
    line(0, pts(blueMid), "#6a6cff", 3.5, 5),
    ...redLevels.map((l) => line(0, pts(l), "rgba(232,95,35,0.92)", 3.5, 7)),
    hRules(0, [61999.3], "rgba(110,113,124,0.55)", [1, 2]),
    candleSeries,

    hRules(1, [0, 40], GRID), vRules(1, -11.05, 112),
    hRules(1, [25, 50], "#8b8e96"),
    hRules(1, [20, 80], "#6b6e76", [4, 3]),
    line(1, series1(adx), "rgba(165,175,190,0.42)", 2, 3),
    ...adxCyanRanges.map(([a, b]) => line(1, series1(adx).slice(a, b + 1), "#1fbdd6", 3, 4)),
    ...adxOrangeRanges.map(([a, b]) => line(1, series1(adx).slice(a, b + 1), "#e8652c", 3, 4)),
    dirLine(1, dmiSlow, "#23e323", "#3c3f48"),
    dirLine(1, dmiFast, "#ff19ff", "#3f73ff"),
    line(1, series1(dmiSignal), "#f9a52e", 2.2, 6),

    hRules(2, [0], GRID), vRules(2, -3.91, 3.29),
    line(2, pts(obvHigh), "rgba(110,116,128,0.85)", 1.1, 3),
    line(2, pts(obvMid), "rgba(110,116,128,0.85)", 1.1, 3),
    line(2, pts(obvLow), "rgba(110,116,128,0.85)", 1.1, 3),
    line(2, series1(obv), "rgba(170,180,195,0.55)", 2, 4),
    ...obvUpStarts.map((i) => line(2, series1(obv).slice(i, i + 2), "#ff19e8", 2, 5)),
    ...obvDownStarts.map((i) => line(2, series1(obv).slice(i, i + 2), "#14bcd0", 2, 5)),

    hRules(3, [-2, 2], GRID), vRules(3, -2.435, 2.49),
    comboBarSeries,
    hRules(3, [0], "#7d8088"),
    line(3, series1(comboLine), "#3a3d47", 2.6, 6),
  ];

  return {
    animation: false,
    backgroundColor: "#1e222d",
    grid: [
      { left: 11, width: 1227, top: 28, height: 823 },
      { left: 11, width: 1227, top: 852, height: 175 },
      { left: 11, width: 1227, top: 1028, height: 135 },
      { left: 11, width: 1227, top: 1164, height: 137 },
    ],
    xAxis: [
      { ...xBase, gridIndex: 0, axisLabel: { show: false } },
      { ...xBase, gridIndex: 1, axisLabel: { show: false } },
      { ...xBase, gridIndex: 2, axisLabel: { show: false } },
      { ...xBase, gridIndex: 3, axisLabel: {
        show: true, customValues: timeTickIdx.map((i) => pos[i]), color: INK, fontSize: 19, fontFamily: FONT, margin: 9, hideOverlap: false,
        formatter: (v: number) => { const k = timeTickIdx.findIndex((i) => Math.abs(pos[i] - v) < 1); const s = timeTickLabels[k] ?? ""; return /[A-Za-z]/.test(s) ? `{b|${s}}` : s; },
        rich: { b: { color: INK, fontSize: 19, fontFamily: FONT, fontWeight: 600 } } } },
    ],
    yAxis: [
      { ...yBase, gridIndex: 0, min: 46756, max: 72800, axisLabel: { ...labelBase, customValues: priceTickLabels, formatter: priceLabels, verticalAlign: "bottom", lineHeight: 6 } },
      { ...yBase, gridIndex: 1, min: -11.05, max: 112, axisLabel: { ...labelBase, customValues: [0, 40, 80], formatter: (v: number) => v.toFixed(2) } },
      { ...yBase, gridIndex: 2, min: -3.91, max: 3.29, axisLabel: { ...labelBase, customValues: [0], formatter: () => "0" } },
      { ...yBase, gridIndex: 3, min: -2.435, max: 2.49, axisLabel: { ...labelBase, customValues: [-2, 0, 2], formatter: (v: number) => v.toFixed(2).replace("-", "−") } },
    ],
    graphic: { elements: graphics },
    series,
  };
}

export default function App() {
  const ref = useRef<HTMLDivElement>(null);
  useEffect(() => {
    document.body.style.margin = "0";
    document.body.style.background = "#1e222d";
    const chart = echarts.init(ref.current!, undefined, { renderer: "svg" });
    chart.setOption(buildOption());
    return () => chart.dispose();
  }, []);
  return <div ref={ref} style={{ position: "absolute", left: 0, top: 0, width: 1352, height: 1380 }} />;
}
